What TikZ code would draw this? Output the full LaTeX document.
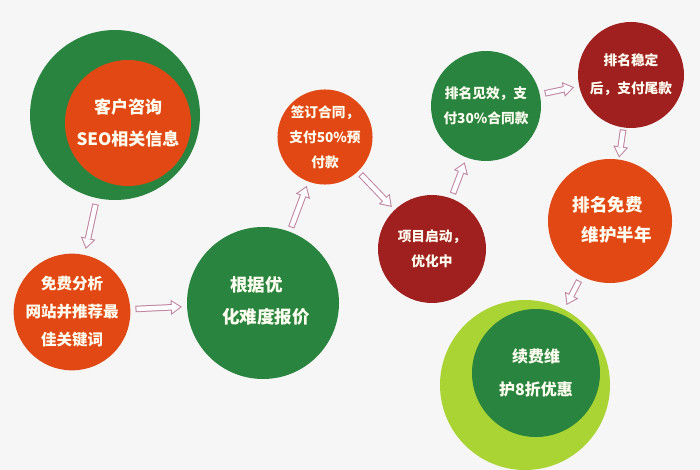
\documentclass[tikz,border=0pt]{standalone}
\usepackage{fontspec}
\newfontfamily\cjk{Noto Sans CJK SC}
\usepackage{tikz}
\usetikzlibrary{arrows.meta}
\definecolor{bgc}{RGB}{246,246,246}
\definecolor{gdark}{RGB}{40,132,62}
\definecolor{orng}{RGB}{226,72,20}
\definecolor{dred}{RGB}{160,32,32}
\definecolor{lime}{RGB}{170,212,52}
\definecolor{arrowc}{RGB}{190,130,160}

\begin{document}
\begin{tikzpicture}[x=1pt,y=-1pt,
		ball/.style={circle,fill=#1,inner sep=0pt,text=white!94!yellow,align=center},
		hollow/.style={draw=white,line width=4.5pt,shorten <=#1+1pt,shorten >=#1+1.8pt,
			-{Triangle[length=8.2pt,width=11.2pt,line width=0pt]},
			preaction={draw=arrowc,line width=6.5pt,shorten <=#1,shorten >=#1,
				-{Triangle[length=11pt,width=15pt,line width=0pt]}}},
		hollow/.default=5pt]
		\fill[bgc] (0,0) rectangle (700,470);
		
		\path	(115,115) node[ball=gdark,minimum size=170pt] (c1) {}
			(128,123) node[ball=orng,minimum size=126pt,font={\cjk\bfseries\fontsize{17}{32}\selectfont}] (c1in) {客户咨询\\SEO相关信息};
		\path	(72,312) node[ball=orng,minimum size=114pt,font={\cjk\bfseries\fontsize{15.5}{28}\selectfont}] (c2) {免费分析\\网站并推荐最\\佳关键词};
		\path	(263,303) node[ball=gdark,minimum size=152pt] (c3) {}
			(266,301) node[align=left,text=white!94!yellow,font={\cjk\bfseries\fontsize{17.5}{32}\selectfont}] (c3txt) {\hspace*{8pt}根据优\\化难度报价};
		\path	(325,137) node[ball=orng,minimum size=94pt,font={\cjk\bfseries\fontsize{13.7}{25}\selectfont}] (c4) {签订合同，\\支付50\%预\\付款};
		\path	(432,249) node[ball=dred,minimum size=108pt,font={\cjk\bfseries\fontsize{13.7}{25}\selectfont}] (c5) {项目启动，\\优化中};
		\path	(486,106) node[ball=gdark,minimum size=110pt,font={\cjk\bfseries\fontsize{13.7}{25}\selectfont}] (c6) {排名见效，支\\付30\%合同款};
		\path	(631,75) node[ball=dred,minimum size=106pt,font={\cjk\bfseries\fontsize{13.7}{28}\selectfont}] (c7) {排名稳定\\后，支付尾款};
		\path	(610,221) node[ball=orng,minimum size=124pt] (c8) {}
			(612,220) node[align=left,text=white!94!yellow,font={\cjk\bfseries\fontsize{17.5}{30}\selectfont}] (c8txt) {排名免费\\\hspace*{9pt}维护半年};
		\path	(525,385) node[ball=lime,minimum size=170pt] (c9) {}
			(536,373) node[ball=gdark,minimum size=128pt,font={\cjk\bfseries\fontsize{16}{33}\selectfont}] (c9in) {续费维\\护8折优惠};
		
		\draw[hollow=6pt] (c1) -- (c2);
		\draw[hollow] (c2) -- (c3);
		\draw[hollow=4.5pt] (c3) -- (c4);
		\draw[hollow=4pt] (c4) -- (c5);
		\draw[hollow] (c5) -- (c6);
		\draw[hollow] (c6) -- (c7);
		\draw[hollow=2pt] (c7) -- (c8);
		\draw[hollow] (c8) -- (c9);
	\end{tikzpicture}
\end{document}
